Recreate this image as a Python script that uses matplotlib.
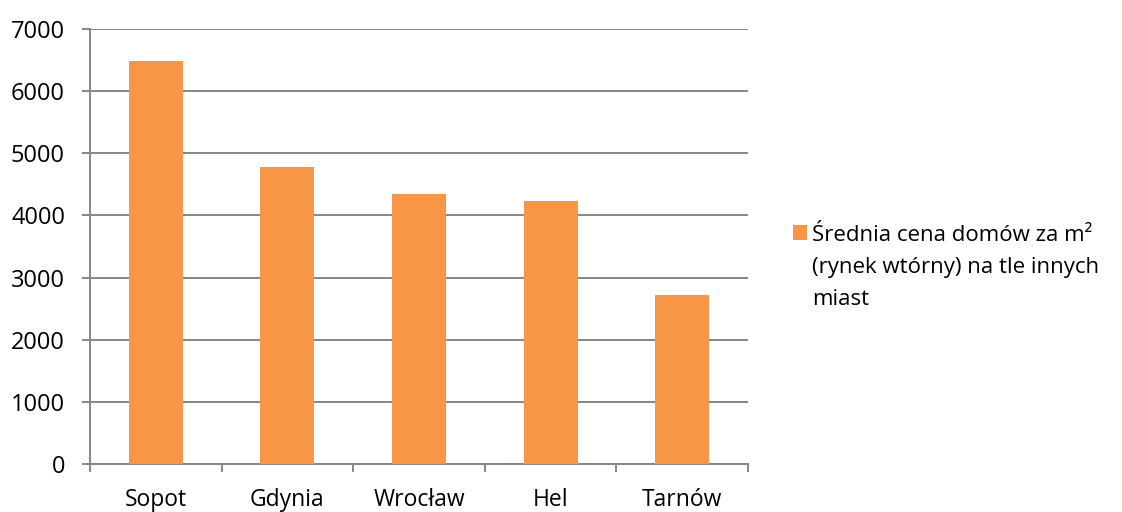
import matplotlib
matplotlib.use("Agg")
import matplotlib.pyplot as plt
from matplotlib.patches import Rectangle
import numpy as np

categories = ["Sopot", "Gdynia", "Wrocław", "Hel", "Tarnów"]
values = [6490, 4785, 4350, 4240, 2725]
yticks = [0, 1000, 2000, 3000, 4000, 5000, 6000, 7000]
legend_lines = ["Średnia cena domów za m²", "(rynek wtórny) na tle innych", "miast"]

plt.rcParams['font.family'] = ['Open Sans', 'DejaVu Sans']
grey = "#868686"
bar_color = "#F79646"

W, H = 1122, 512
fig = plt.figure(figsize=(W/100, H/100), dpi=100)
ax = fig.add_axes([90/W, 48/H, 658/W, 435/H])

x = np.arange(len(categories))
ax.bar(x, values, width=0.41, color=bar_color, zorder=3)

ax.set_xlim(-0.5, len(categories) - 0.5)
ax.set_ylim(0, 7000)
ax.set_yticks(yticks)
ax.set_yticklabels([str(t) for t in yticks], fontsize=17)
ax.yaxis.grid(True, color=grey, linewidth=1.4, zorder=0)

ax.set_xticks(x)
ax.set_xticklabels(categories, fontsize=16.5)
ax.set_xticks(np.arange(len(categories) + 1) - 0.5, minor=True)
ax.tick_params(axis='x', which='major', length=0, pad=17)
ax.tick_params(axis='x', which='minor', length=6, width=1.4, color=grey, direction='out')
ax.tick_params(axis='y', length=6, width=1.4, color=grey, pad=12)

for s in ['top', 'right']:
    ax.spines[s].set_visible(False)
for s in ['left', 'bottom']:
    ax.spines[s].set_color(grey)
    ax.spines[s].set_linewidth(1.4)
ax.set_axisbelow(True)

# legend
fig.patches.append(Rectangle((793/W, 1 - 240/H), 14/W, 15/H,
                             transform=fig.transFigure, facecolor=bar_color,
                             edgecolor='none'))
for i, line in enumerate(legend_lines):
    fig.text(812/W, 1 - (241 + 32*i)/H, line, fontsize=16, va='baseline',
             ha='left', transform=fig.transFigure)

fig.savefig("out.png", dpi=100)
